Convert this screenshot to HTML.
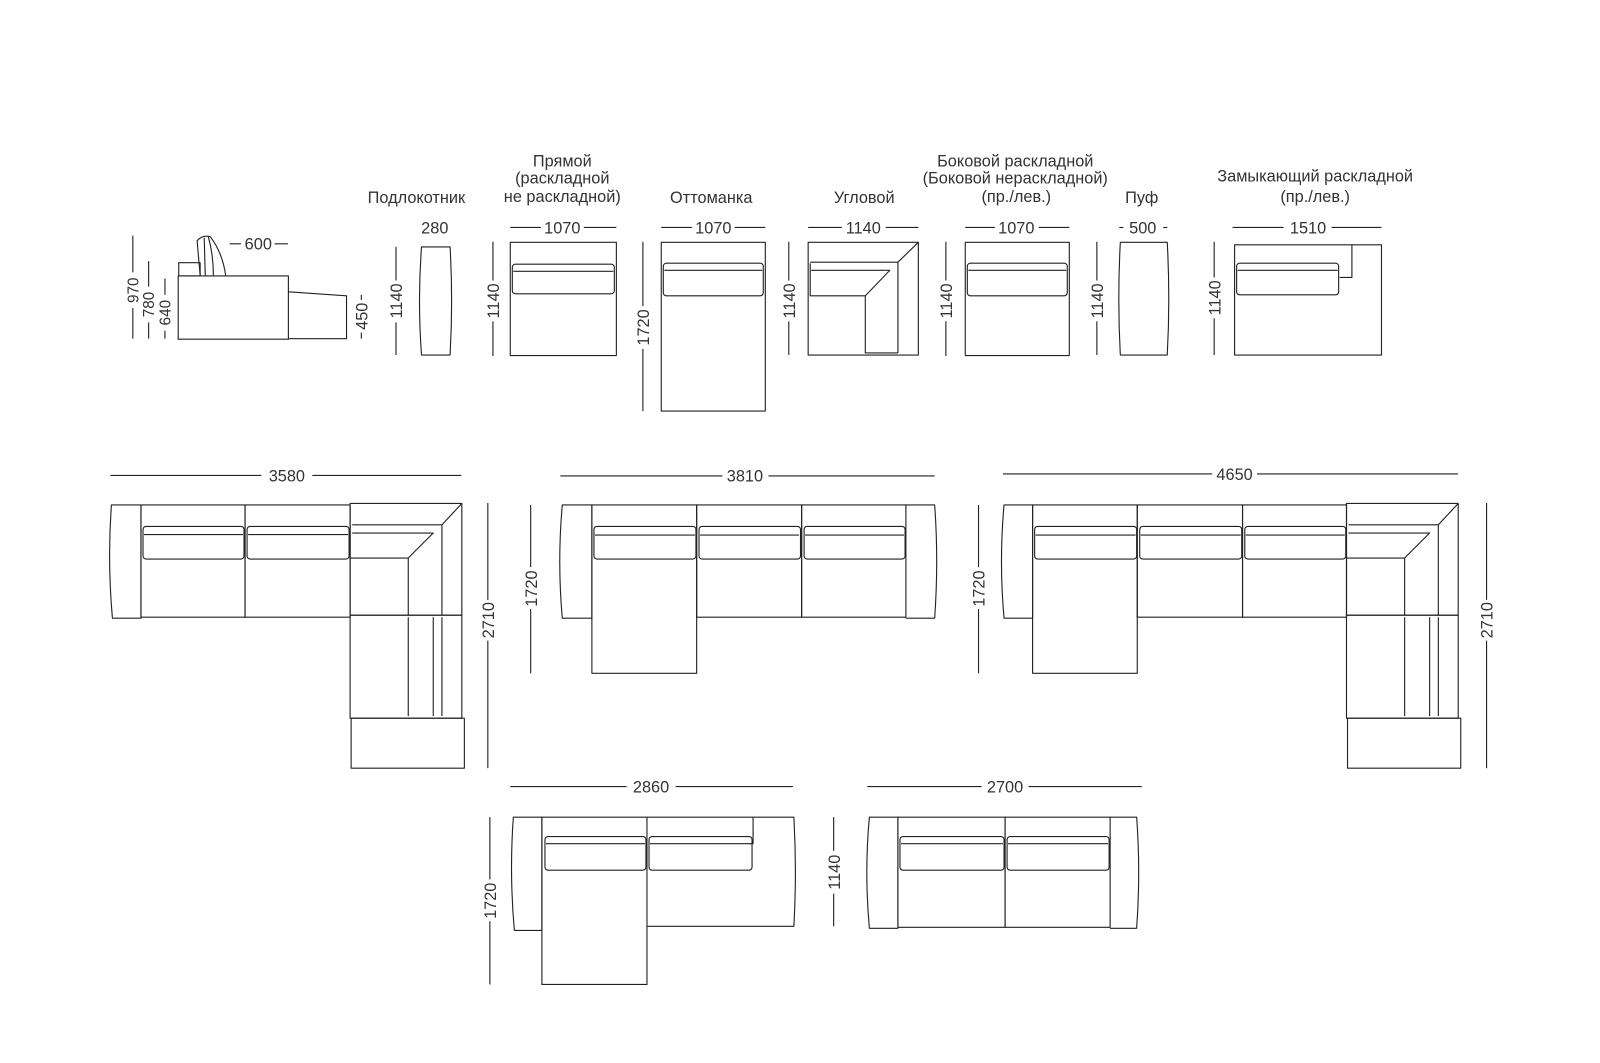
<!DOCTYPE html>
<html><head><meta charset="utf-8"><style>
html,body{margin:0;padding:0;background:#fff;}
svg{display:block;}
text{font-family:"Liberation Sans",sans-serif;fill:#333;font-size:16px;}
</style></head><body>
<svg width="1600" height="1063" viewBox="0 0 1568 1042" xmlns="http://www.w3.org/2000/svg">
<g fill="none" stroke="#222" stroke-width="1.1" stroke-linejoin="round">
<!-- side view -->
<line x1="130" y1="231" x2="130" y2="267"/><line x1="130" y1="302" x2="130" y2="332"/>
<line x1="145.5" y1="256" x2="145.5" y2="281"/><line x1="145.5" y1="316" x2="145.5" y2="332"/>
<line x1="161.5" y1="273" x2="161.5" y2="289"/><line x1="161.5" y1="324" x2="161.5" y2="332"/>
<rect x="174.5" y="270.5" width="108" height="62"/>
<rect x="175" y="257.5" width="21" height="13"/>
<path d="M196,270 L193,236 Q198,230 206,232 Q218,248 221,270"/>
<path d="M201,270 L200,233 M209,270 Q209,250 204,232"/>
<path d="M282.5,286 L339.5,290 L339.5,332 L282.5,332"/>
<line x1="225" y1="239" x2="236" y2="239"/><line x1="269" y1="239" x2="282" y2="239"/>
<line x1="354" y1="289" x2="354" y2="294"/><line x1="354" y1="326" x2="354" y2="332"/>
<!-- Подлокотник -->
<path d="M413,242 L441,242 Q444,295 441,348 L413,348 Q409,295 413,242 Z"/>
<line x1="388" y1="242" x2="388" y2="275"/><line x1="388" y1="316" x2="388" y2="348"/>
<!-- Прямой -->
<rect x="500" y="237.5" width="104" height="111"/>
<rect x="502" y="259" width="100" height="29" rx="3"/><line x1="503" y1="266" x2="601" y2="266"/>
<line x1="500" y1="223" x2="530" y2="223"/><line x1="572" y1="223" x2="604" y2="223"/>
<line x1="483" y1="237" x2="483" y2="275"/><line x1="483" y1="315" x2="483" y2="349"/>
<!-- Оттоманка -->
<rect x="648" y="237.5" width="102" height="165.5"/>
<rect x="650" y="258" width="98" height="32" rx="3"/><line x1="651" y1="265" x2="747" y2="265"/>
<line x1="648" y1="223" x2="678" y2="223"/><line x1="720" y1="223" x2="750" y2="223"/>
<line x1="630" y1="237" x2="630" y2="300"/><line x1="630" y1="342" x2="630" y2="403"/>
<!-- Угловой -->
<rect x="792" y="237.5" width="108" height="110.5"/>
<path d="M900,237.5 L880,257 L794,257 M880,257 L880,346"/>
<path d="M794,258 L794,290 L848,290 L848,346 L880,346 M795,265 L872,265 L848,290"/>
<line x1="792" y1="223" x2="825" y2="223"/><line x1="868" y1="223" x2="900" y2="223"/>
<line x1="773" y1="237" x2="773" y2="275"/><line x1="773" y1="315" x2="773" y2="348"/>
<!-- Боковой -->
<rect x="946" y="237.5" width="102" height="111"/>
<rect x="948" y="258" width="98" height="32" rx="3"/><line x1="949" y1="265" x2="1045" y2="265"/>
<line x1="946" y1="223" x2="975" y2="223"/><line x1="1018" y1="223" x2="1048" y2="223"/>
<line x1="927" y1="237" x2="927" y2="275"/><line x1="927" y1="315" x2="927" y2="349"/>
<!-- Пуф -->
<path d="M1098,237.5 L1144,237.5 Q1147,293 1144,348 L1098,348 Q1095,293 1098,237.5 Z"/>
<line x1="1097" y1="223" x2="1101" y2="223"/><line x1="1140" y1="223" x2="1144" y2="223"/>
<line x1="1075" y1="237" x2="1075" y2="275"/><line x1="1075" y1="315" x2="1075" y2="348"/>
<!-- Замыкающий -->
<rect x="1210" y="240" width="144" height="108"/>
<path d="M1325,240 L1325,272 L1313,272"/>
<rect x="1212" y="258" width="100" height="31" rx="3"/><line x1="1213" y1="265" x2="1311" y2="265"/>
<line x1="1208" y1="223" x2="1258" y2="223"/><line x1="1305" y1="223" x2="1354" y2="223"/>
<line x1="1190" y1="237" x2="1190" y2="272"/><line x1="1190" y1="312" x2="1190" y2="348"/>

<!-- Assembly 1 -->
<line x1="108" y1="466" x2="256" y2="466"/><line x1="306" y1="466" x2="452" y2="466"/>
<path d="M109,495 Q105,550 110,606 L138,606 L138,495 Z"/>
<rect x="138" y="495" width="102" height="110"/><rect x="240" y="495" width="103" height="110"/>
<rect x="140" y="516" width="99" height="32" rx="3"/><line x1="141" y1="524" x2="238" y2="524"/>
<rect x="242" y="516" width="100" height="32" rx="3"/><line x1="243" y1="524" x2="341" y2="524"/>
<g id="corner">
<rect x="343" y="493.5" width="109.5" height="109.5"/>
<path d="M452.5,493.5 L433,514.5 L345,514.5 M433,514.5 L433,603"/>
<path d="M345,522.5 L424.5,522.5 L400,547 L400,603 M343,547 L400,547"/>
<rect x="343" y="603" width="109.5" height="101"/>
<line x1="400" y1="605" x2="400" y2="702"/><line x1="424.5" y1="605" x2="424.5" y2="702"/><line x1="433" y1="605" x2="433" y2="702"/>
<rect x="344" y="704" width="111" height="49"/>
</g>
<line x1="478" y1="493" x2="478" y2="588"/><line x1="478" y1="628" x2="478" y2="753"/>

<!-- Assembly 2 -->
<line x1="549" y1="466.5" x2="708" y2="466.5"/><line x1="753" y1="466.5" x2="916" y2="466.5"/>
<path d="M551,495 Q546,550 551,606 L580,606 L580,495 Z"/>
<rect x="580" y="495" width="102.7" height="165"/>
<rect x="682.7" y="495" width="102.9" height="110"/><rect x="785.6" y="495" width="102.2" height="110"/>
<path d="M887.8,495 L916,495 Q920,550 916,606 L887.8,606"/>
<rect x="582" y="516" width="100" height="32" rx="3"/><line x1="583" y1="524.5" x2="681" y2="524.5"/>
<rect x="685" y="516" width="99.5" height="32" rx="3"/><line x1="686" y1="524.5" x2="783" y2="524.5"/>
<rect x="788" y="516" width="99" height="32" rx="3"/><line x1="789" y1="524.5" x2="886" y2="524.5"/>
<line x1="520" y1="495" x2="520" y2="556"/><line x1="520" y1="597" x2="520" y2="660"/>

<!-- Assembly 3 -->
<line x1="983" y1="464.6" x2="1188" y2="464.6"/><line x1="1232" y1="464.6" x2="1429" y2="464.6"/>
<path d="M984,495 Q979,550 984,606 L1012,606 L1012,495 Z"/>
<rect x="1012" y="495" width="102.6" height="165"/>
<rect x="1114.6" y="495" width="103.2" height="110"/><rect x="1217.8" y="495" width="101.9" height="110"/>
<rect x="1014" y="516" width="100" height="32" rx="3"/><line x1="1015" y1="524.5" x2="1113" y2="524.5"/>
<rect x="1117" y="516" width="100" height="32" rx="3"/><line x1="1118" y1="524.5" x2="1216" y2="524.5"/>
<rect x="1220" y="516" width="99" height="32" rx="3"/><line x1="1221" y1="524.5" x2="1318" y2="524.5"/>
<use href="#corner" transform="translate(976.7,0)"/>
<line x1="959" y1="495" x2="959" y2="556"/><line x1="959" y1="597" x2="959" y2="660"/>
<line x1="1457" y1="493" x2="1457" y2="588"/><line x1="1457" y1="628" x2="1457" y2="753"/>

<!-- Assembly 4 -->
<line x1="500" y1="771" x2="614" y2="771"/><line x1="662" y1="771" x2="777" y2="771"/>
<path d="M503,801 Q499,857 504,912 L531,912 L531,801 Z"/>
<rect x="531" y="801" width="103" height="164"/>
<path d="M634,801 L778,801 Q781,855 778,908 L634,908"/>
<path d="M738,801 L738,827 L735,827"/>
<rect x="534" y="820" width="99" height="33" rx="3"/><line x1="535" y1="827" x2="632" y2="827"/>
<rect x="636" y="820" width="101" height="33" rx="3"/><line x1="637" y1="827" x2="736" y2="827"/>
<line x1="480" y1="801" x2="480" y2="862"/><line x1="480" y1="903" x2="480" y2="965"/>

<!-- Assembly 5 -->
<line x1="850" y1="771" x2="962" y2="771"/><line x1="1008" y1="771" x2="1119" y2="771"/>
<path d="M852,801 L880,801 L880,910 L852,910 Q847,855 852,801 Z"/>
<rect x="880" y="801" width="105" height="108"/><rect x="985" y="801" width="103" height="108"/>
<path d="M1088,801 L1114,801 Q1118,855 1114,910 L1088,910"/>
<rect x="882" y="820" width="102" height="33" rx="3"/><line x1="883" y1="827" x2="983" y2="827"/>
<rect x="987" y="820" width="100" height="33" rx="3"/><line x1="988" y1="827" x2="1086" y2="827"/>
<line x1="817" y1="801" x2="817" y2="834"/><line x1="817" y1="876" x2="817" y2="908"/>
</g>

<g text-anchor="middle">
<text x="253" y="244.5">600</text>
<text transform="translate(135.5,284.5) rotate(-90)" style="font-size:15px">970</text>
<text transform="translate(151,298.5) rotate(-90)" style="font-size:15px">780</text>
<text transform="translate(167,306.5) rotate(-90)" style="font-size:15px">640</text>
<text transform="translate(360,310) rotate(-90)">450</text>
<text x="408" y="199">Подлокотник</text>
<text x="426" y="229">280</text>
<text transform="translate(394,295) rotate(-90)">1140</text>
<text x="551" y="163">Прямой</text>
<text x="551" y="180">(раскладной</text>
<text x="551" y="198">не раскладной)</text>
<text x="551" y="229">1070</text>
<text transform="translate(489,295) rotate(-90)">1140</text>
<text x="697" y="199">Оттоманка</text>
<text x="699" y="229">1070</text>
<text transform="translate(636,321) rotate(-90)">1720</text>
<text x="847" y="199">Угловой</text>
<text x="846" y="229">1140</text>
<text transform="translate(779,295) rotate(-90)">1140</text>
<text x="995" y="163">Боковой раскладной</text>
<text x="995" y="180">(Боковой нераскладной)</text>
<text x="996" y="198">(пр./лев.)</text>
<text x="996" y="229">1070</text>
<text transform="translate(933,295) rotate(-90)">1140</text>
<text x="1119" y="199">Пуф</text>
<text x="1120" y="229">500</text>
<text transform="translate(1081,295) rotate(-90)">1140</text>
<text x="1289" y="178">Замыкающий раскладной</text>
<text x="1289" y="198">(пр./лев.)</text>
<text x="1282" y="229">1510</text>
<text transform="translate(1196,292) rotate(-90)">1140</text>
<text x="281" y="472">3580</text>
<text transform="translate(484,608) rotate(-90)">2710</text>
<text x="730" y="472">3810</text>
<text transform="translate(526,577) rotate(-90)">1720</text>
<text x="1210" y="470.5">4650</text>
<text transform="translate(965,577) rotate(-90)">1720</text>
<text transform="translate(1463,608) rotate(-90)">2710</text>
<text x="638" y="777">2860</text>
<text transform="translate(486,883) rotate(-90)">1720</text>
<text x="985" y="777">2700</text>
<text transform="translate(823,855) rotate(-90)">1140</text>
</g>
</svg>
</body></html>
